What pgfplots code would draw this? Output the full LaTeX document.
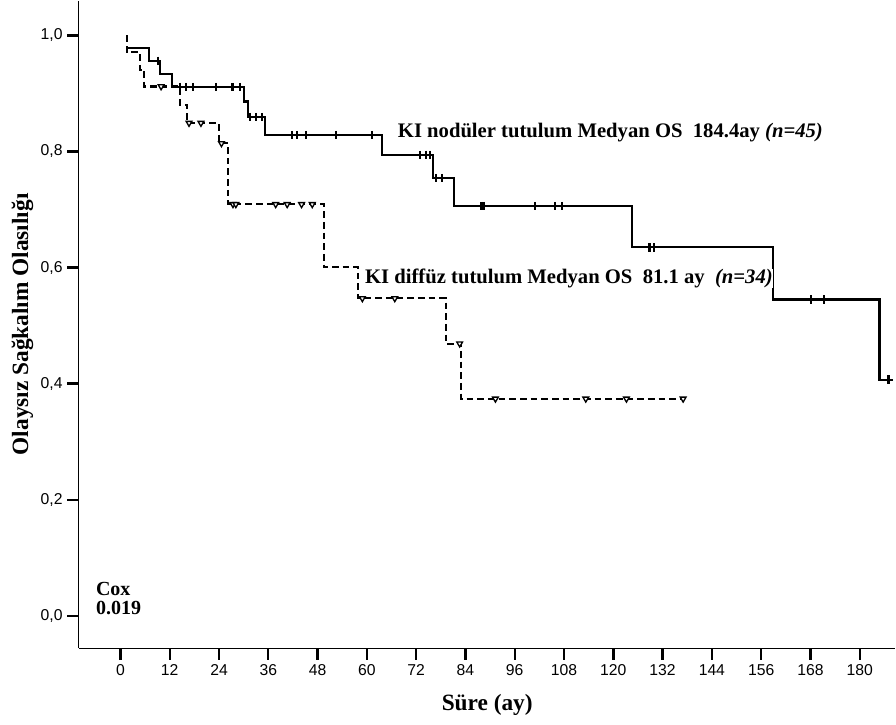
\documentclass[border=0pt]{standalone}
\usepackage{pgfplots}
\pgfplotsset{compat=1.18}
\usepackage{fontspec}
\setmainfont{Liberation Serif}
\newfontfamily\tickfont{Liberation Sans}

\begin{document}
\begin{tikzpicture}
\begin{axis}[
    scale only axis,
    width=612.75pt, height=486pt,
    xmin=-10.1, xmax=188.7,
    ymin=-0.0555, ymax=1.06,
    axis x line*=bottom, axis y line*=left,
    axis line style={line width=0.8pt, -},
    xtick={0,12,...,180},
    ytick={0,0.2,0.4,0.6,0.8,1},
    tick align=outside,
    major tick length=8.8pt,
    tick style={line width=1.8pt, black},
    /pgf/number format/assume math mode=true,
    ticklabel style={font=\tickfont\fontsize{11.8}{14}\selectfont},
    yticklabel style={/pgf/number format/.cd, fixed, fixed zerofill, precision=1, use comma},
    xlabel={Süre (ay)},
    ylabel={Olaysız Sağkalım Olasılığı},
    label style={font=\bfseries\fontsize{17.5}{20}\selectfont},
    xlabel style={at={(axis description cs:0.5,-0.088)}, anchor=center},
    ylabel style={at={(axis description cs:-0.0692,0.5)}, anchor=center, rotate=0},
    clip=false,
]
% KI nodüler tutulum (n=45)
\addplot[const plot, line width=1.6pt, black] coordinates {
    (1.5,0.978) (7.0,0.956) (9.6,0.933) (12.5,0.911) (30.0,0.886) (31.1,0.859)
    (35.3,0.828) (63.7,0.794) (76.1,0.754) (81.2,0.706) (124.6,0.635)
    (158.8,0.545) (184.8,0.407) (187.0,0.407)
};
\addplot[only marks, mark=|, mark size=3.2pt, mark options={line width=1.6pt}, black] coordinates {
    (9.2,0.956)
    (14.5,0.911) (15.9,0.911) (17.6,0.911) (23.2,0.911) (27.3,0.911) (29.1,0.911)
    (31.5,0.859) (33.1,0.859) (34.4,0.859)
    (41.8,0.828) (43.0,0.828) (45.2,0.828) (52.5,0.828) (61.2,0.828)
    (72.9,0.794) (74.4,0.794) (75.3,0.794)
    (76.9,0.754) (78.2,0.754)
    (87.9,0.706) (88.4,0.706) (101.0,0.706) (105.9,0.706) (107.6,0.706)
    (128.8,0.635) (130.0,0.635)
    (168.2,0.545) (171.2,0.545)
};
\addplot[only marks, mark=+, mark size=3.2pt, mark options={line width=1.6pt}, black] coordinates {
    (187.0,0.407)
};
% KI diffüz tutulum (n=34)
\addplot[const plot, line width=1.6pt, black, dash pattern=on 5pt off 3pt] coordinates {
    (1.5,1.0) (1.5,0.971) (4.7,0.941) (5.8,0.912) (14.5,0.880) (16.3,0.849)
    (24.0,0.814) (26.2,0.709) (49.5,0.601) (57.9,0.547) (79.2,0.469)
    (83.0,0.374) (137.0,0.374)
};
\addplot[only marks, mark=triangle*, mark size=2.5pt,
    mark options={rotate=180, fill=white, draw=black, line width=1pt, solid}] coordinates {
    (9.9,0.912)
    (16.7,0.849) (19.6,0.849)
    (24.6,0.814)
    (27.4,0.709) (28.1,0.709) (37.8,0.709) (40.6,0.709) (44.1,0.709) (46.7,0.709)
    (58.9,0.547) (66.8,0.547)
    (82.6,0.469)
    (91.3,0.374) (113.3,0.374) (123.2,0.374) (137.0,0.374)
};
\node[anchor=west, font=\bfseries\fontsize{15.5}{18}\selectfont, inner sep=0pt]
    at (axis cs:67.5,0.832) {KI nodüler tutulum Medyan OS\ \ 184.4ay \textit{(n=45)}};
\node[anchor=west, font=\bfseries\fontsize{15.5}{18}\selectfont, inner sep=0pt, fill=white]
    at (axis cs:59.5,0.582) {KI diffüz tutulum Medyan OS\ \ 81.1 ay\ \ \textit{(n=34)}};
\node[anchor=west, font=\bfseries\fontsize{15}{18}\selectfont, inner sep=0pt]
    at (axis cs:-6,0.047) {Cox};
\node[anchor=west, font=\bfseries\fontsize{15}{18}\selectfont, inner sep=0pt]
    at (axis cs:-6,0.0129) {0.019};
\end{axis}
\path (current axis.south west) ++(-59.25pt,-57pt) rectangle (current axis.north east);
\end{tikzpicture}
\end{document}
